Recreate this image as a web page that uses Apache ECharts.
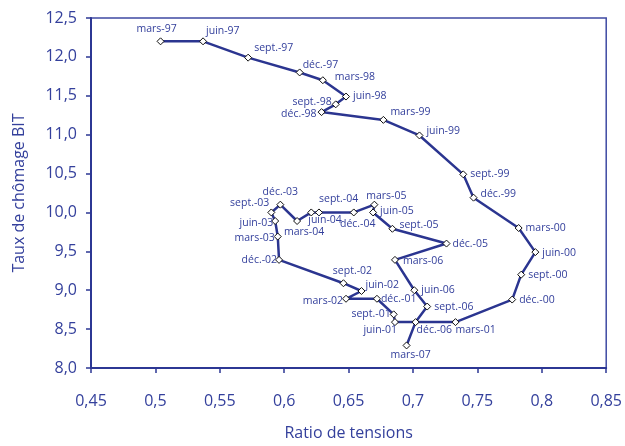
<!DOCTYPE html>
<html><head><meta charset="utf-8">
<script src="https://cdn.jsdelivr.net/npm/echarts@6/dist/echarts.min.js"></script>
<style>html,body{margin:0;padding:0;background:#fff}#c{width:625px;height:446px}</style>
</head><body><div id="c"></div>
<script>
const periods = ['mars-97','juin-97','sept.-97','déc.-97','mars-98','juin-98','sept.-98','déc.-98',
 'mars-99','juin-99','sept.-99','déc.-99','mars-00','juin-00','sept.-00','déc.-00',
 'mars-01','juin-01','sept.-01','déc.-01','mars-02','juin-02','sept.-02','déc.-02',
 'mars-03','juin-03','sept.-03','déc.-03','mars-04','juin-04','sept.-04','déc.-04',
 'mars-05','juin-05','sept.-05','déc.-05','mars-06','juin-06','sept.-06','déc.-06','mars-07'];
const ratio = [0.504,0.537,0.572,0.612,0.630,0.648,0.640,0.629,
 0.677,0.705,0.739,0.747,0.782,0.795,0.784,0.777,
 0.733,0.686,0.685,0.672,0.648,0.660,0.646,0.596,
 0.595,0.593,0.590,0.597,0.610,0.621,0.627,0.654,
 0.670,0.669,0.684,0.726,0.686,0.701,0.711,0.702,0.695];
const chomage = [12.2,12.2,11.99,11.8,11.7,11.49,11.39,11.29,
 11.19,10.99,10.49,10.19,9.8,9.49,9.2,8.88,
 8.59,8.59,8.69,8.89,8.89,8.99,9.09,9.39,
 9.69,9.89,10.0,10.1,9.89,10.0,10.0,10.0,
 10.1,10.0,9.79,9.6,9.39,9.0,8.79,8.59,8.29];
const xTicks = {min:0.45, max:0.85, step:0.05};
const yTicks = {min:8, max:12.5, step:0.5};

// label placement: [align, dx, dy] relative to the marker centre (style only)
const labelPlace = {
 'mars-97':['center',-4,-12],'juin-97':['left',3,-10],'sept.-97':['left',6,-10],'déc.-97':['left',3,-7],
 'mars-98':['left',12,-3],'juin-98':['left',7,-1],'sept.-98':['right',-4,-2],'déc.-98':['right',-5,2],
 'mars-99':['left',7,-8],'juin-99':['left',7,-4],'sept.-99':['left',7,0],'déc.-99':['left',7,-4],
 'mars-00':['left',7,0],'juin-00':['left',7,1],'sept.-00':['left',7,0],'déc.-00':['left',7,0],
 'mars-01':['left',0,8],'juin-01':['right',2,8],'sept.-01':['right',-3,0],'déc.-01':['left',4,0],
 'mars-02':['right',-3,2],'juin-02':['left',4,-6],'sept.-02':['center',9,-12],'déc.-02':['right',-2,0],
 'mars-03':['right',-3,1],'juin-03':['right',-2,2],'sept.-03':['right',-2,-9],'déc.-03':['center',0,-13],
 'mars-04':['center',7,11],'juin-04':['left',-3,8],'sept.-04':['left',0,-13],'déc.-04':['center',4,12],
 'mars-05':['center',12,-9],'juin-05':['left',7,-1],'sept.-05':['left',7,-4],'déc.-05':['left',6,0],
 'mars-06':['left',8,1],'juin-06':['left',7,0],'sept.-06':['left',7,0],'déc.-06':['left',1,8],'mars-07':['center',4,10]
};

const txt = '#34409c', axisCol = '#2c3794', lineCol = '#2b3590';
const font = 'Open Sans';
const data = periods.map((p,i)=>{
  const lp = labelPlace[p];
  return {name:p, value:[ratio[i], chomage[i]],
    label:{show:true, position:'inside', align:lp[0], verticalAlign:'middle', offset:[lp[1],lp[2]]}};
});
const chart = echarts.init(document.getElementById('c'));
chart.setOption({
  animation:false,
  backgroundColor:'#fff',
  grid:{left:91, right:18, top:18, bottom:73, show:true, borderColor:'#3f4aa3', borderWidth:1.5},
  xAxis:{type:'value', min:xTicks.min, max:xTicks.max, interval:xTicks.step,
    name:'Ratio de tensions', nameLocation:'middle', nameGap:57,
    nameTextStyle:{color:txt, fontSize:16, fontFamily:font},
    axisLine:{show:true, onZero:false, lineStyle:{color:axisCol, width:2}},
    axisTick:{show:true, length:5, lineStyle:{color:axisCol, width:1.5}},
    axisLabel:{color:txt, fontSize:16, fontFamily:font, margin:25,
      formatter:v=>String(+v.toFixed(2)).replace('.',',')},
    splitLine:{show:false}},
  yAxis:{type:'value', min:yTicks.min, max:yTicks.max, interval:yTicks.step,
    name:'Taux de chômage BIT', nameLocation:'middle', nameGap:64, nameRotate:90,
    nameTextStyle:{color:txt, fontSize:16, fontFamily:font},
    axisLine:{show:true, onZero:false, lineStyle:{color:axisCol, width:2}},
    axisTick:{show:true, length:5, lineStyle:{color:axisCol, width:1.5}},
    axisLabel:{color:txt, fontSize:16, fontFamily:font, margin:14,
      formatter:v=>v.toFixed(1).replace('.',',')},
    splitLine:{show:false}},
  series:[{type:'line', data:data, symbol:'diamond', symbolSize:7,
    lineStyle:{color:lineCol, width:2.5},
    itemStyle:{color:'#fff', borderColor:'#111', borderWidth:1},
    label:{color:txt, fontSize:10.5, fontFamily:font, formatter:p=>p.name},
    z:3}]
});
</script></body></html>
